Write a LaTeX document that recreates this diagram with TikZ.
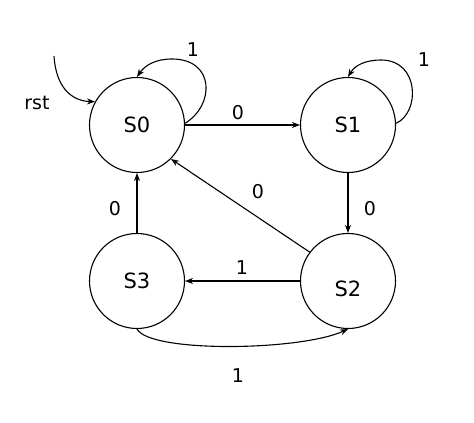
\documentclass[tikz,border=0pt]{standalone}
\usepackage{fontspec}
\setmainfont{DejaVu Sans}
\usetikzlibrary{arrows.meta}
\begin{document}
\begin{tikzpicture}[x=1pt,y=1pt,
  state/.style={draw,circle,line width=1.1pt,minimum size=95pt,inner sep=0pt,font=\fontsize{21}{24}\selectfont},
  lbl/.style={font=\fontsize{19}{22}\selectfont},
  edge/.style={line width=1.1pt,-{Stealth[length=8pt,width=6pt]}}]
\useasboundingbox (0,0) rectangle (474,423);
\node[state] (s0) at (137,298) {S0};
\node[state] (s1) at (348,298) {S1};
\node[state] (s3) at (137,142) {S3};
\node[state] (s2) at (348,142) {};
\node[font=\fontsize{21}{24}\selectfont] (s2t) at ([yshift=-8pt]s2.center) {S2};
\coordinate (rs) at (54,367);
% rst
\draw[edge] (rs) .. controls (56,335) and (72,322) .. (s0.151);
\node[lbl] (lrst) at (37,320) {rst};
% loops
\draw[edge] (s0.2) .. controls (215,318) and (215,364) .. (172,364) .. controls (156,364) and (145,358) .. (s0.north);
\node[lbl] (l1) at (193,373) {1};
\draw[edge] (s1.2) .. controls (420,310) and (420,363) .. (381,363) .. controls (366,363) and (355,358) .. (s1.north);
\node[lbl] (l2) at (424,363) {1};
% straight edges
\draw[edge] (s0) -- (s1);
\node[lbl] (l3) at (238,310) {0};
\draw[edge] (s1) -- (s2);
\node[lbl] (l4) at (370,214) {0};
\draw[edge] (s2.143) -- (s0.-45);
\node[lbl] (l5) at (258,231) {0};
\draw[edge] (s2) -- (s3);
\node[lbl] (l6) at (242,155) {1};
\draw[edge] (s3) -- (s0);
\node[lbl] (l7) at (115,214) {0};
\draw[edge] (s3.south) .. controls (150,70) and (300,72) .. (s2.south);
\node[lbl] (l8) at (238,47) {1};
\end{tikzpicture}
\end{document}
